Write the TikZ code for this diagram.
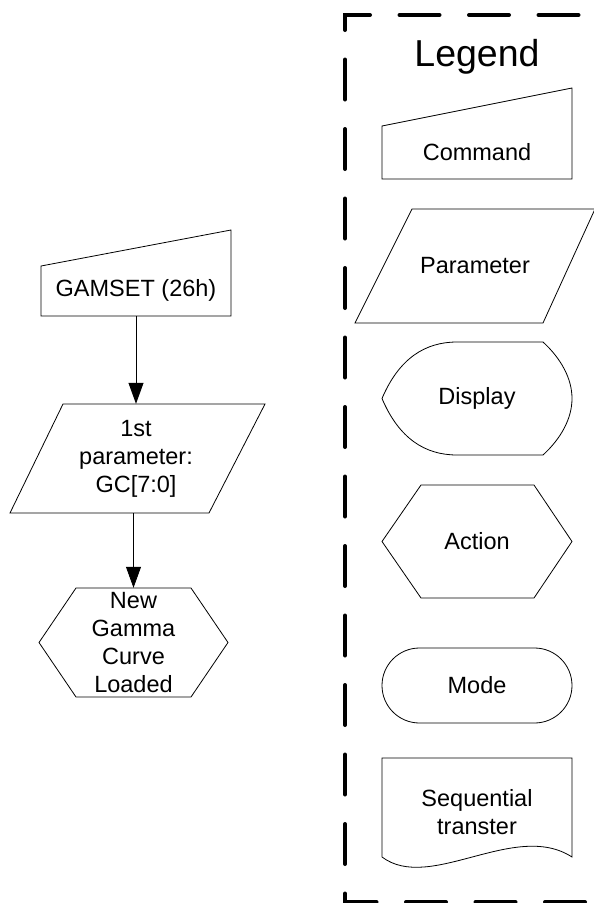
\documentclass[tikz,border=0pt]{standalone}
\usepackage{fontspec}
\setmainfont{Liberation Sans}
\usetikzlibrary{arrows.meta, shapes.misc}

\begin{document}
\begin{tikzpicture}[
        x=1pt, y=-1pt,
        txt/.style={inner sep=0pt, align=center, font=\fontsize{23.5}{28}\selectfont},
        shp/.style={draw, line width=0.8pt},
        arr/.style={-{Triangle[length=21pt, width=15pt]}, line width=0.8pt},
        legendframe/.style={line width=4pt, line cap=round,
                            dash pattern=on 40pt off 29.5pt, dash phase=28pt},
    ]
    \useasboundingbox (0,0) rectangle (594,903);

    % flow
    \node[txt, minimum width=190pt, minimum height=52pt] (gamset) at (136,290) {GAMSET (26h)};
    \draw[shp, shift={(gamset.center)}] (-95,26) -- (95,26) -- (95,-60) -- (-95,-24) -- cycle;
    \node[txt, minimum width=200pt, minimum height=109pt] (param) at (136,458.5) {1st\\parameter:\\GC[7:0]};
    \draw[shp, shift={(param.center)}] (-126,54.5) -- (73,54.5) -- (129,-54.5) -- (-73,-54.5) -- cycle;
    \node[txt, minimum width=189pt, minimum height=109pt] (newgc) at (133.5,642.5) {New\\Gamma\\Curve\\Loaded};
    \draw[shp, shift={(newgc.center)}] (-94.5,0) -- (-57.5,-54.5) -- (57.5,-54.5) -- (94.5,0)
        -- (57.5,54.5) -- (-57.5,54.5) -- cycle;
    \draw[arr] (gamset) -- (param);
    \draw[arr] (param.south -| newgc) -- (newgc);

    % legend
    \draw[legendframe] (620,15) -- (345,15) -- (345,902) -- (620,902);
    \node[inner sep=0pt, font=\fontsize{37.5}{45}\selectfont] (legtitle) at (477,57) {Legend};
    \node[txt, minimum width=190pt, minimum height=53pt] (lcmd) at (477,152.5) {Command};
    \draw[shp, shift={(lcmd.center)}] (-95,26.5) -- (95,26.5) -- (95,-64.5) -- (-95,-26.5) -- cycle;
    \node[txt, minimum width=188pt, minimum height=114pt] (lpar) at (475,266) {Parameter};
    \draw[shp, shift={(lpar.center)}] (-120,57) -- (68,57) -- (120,-57) -- (-63,-57) -- cycle;
    \node[txt, minimum width=190pt, minimum height=113pt] (ldisp) at (477,398.5) {Display};
    \draw[shp, shift={(ldisp.center)}] (-95,0) .. controls (-78,-40) and (-52,-56.5) .. (-20,-56.5)
        -- (66,-56.5) .. controls (84,-40) and (95,-20) .. (95,0)
        .. controls (95,20) and (84,40) .. (66,56.5)
        -- (-20,56.5) .. controls (-52,56.5) and (-78,40) .. cycle;
    \node[txt, minimum width=190pt, minimum height=113pt] (lact) at (477,541.5) {Action};
    \draw[shp, shift={(lact.center)}] (-95,0) -- (-56,-56.5) -- (57,-56.5) -- (95,0)
        -- (57,56.5) -- (-56,56.5) -- cycle;
    \node[txt, shp, rounded rectangle, minimum width=190pt, minimum height=75pt] (lmode) at (477,685.5) {Mode};
    \node[txt, minimum width=190pt, minimum height=99pt] (lseq) at (477,812) {Sequential\\transter};
    \draw[shp, shift={(lseq.center)}] (-95,-54) -- (95,-54) -- (95,45)
        .. controls (38,8) and (-47,81) .. (-95,45) -- cycle;
\end{tikzpicture}
\end{document}
